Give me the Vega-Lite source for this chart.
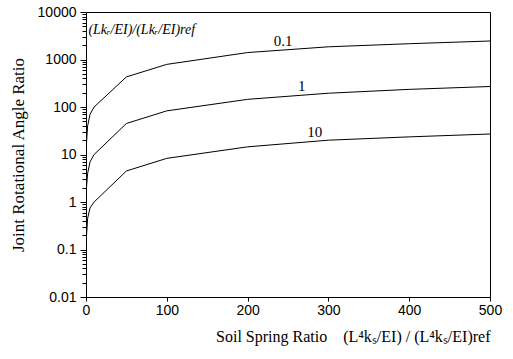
{
  "$schema": "https://vega.github.io/schema/vega-lite/v6.json",
  "autosize": {"type": "none"},
  "padding": {"left": 86, "top": 12, "right": 23, "bottom": 62},
  "width": 404,
  "height": 285,
  "background": "white",
  "config": {
    "view": {"stroke": "black", "strokeWidth": 1},
    "axis": {"domainColor": "black", "tickColor": "black", "labelColor": "black", "titleColor": "black", "grid": false}
  },
  "datasets": {
    "curves": [
      {"s": "0.1", "x": 0, "y": 12}, {"s": "0.1", "x": 2, "y": 40}, {"s": "0.1", "x": 5, "y": 70}, {"s": "0.1", "x": 10, "y": 100},
      {"s": "0.1", "x": 50, "y": 430}, {"s": "0.1", "x": 100, "y": 790}, {"s": "0.1", "x": 200, "y": 1400}, {"s": "0.1", "x": 300, "y": 1850},
      {"s": "0.1", "x": 400, "y": 2150}, {"s": "0.1", "x": 500, "y": 2450},
      {"s": "1", "x": 0, "y": 1.5}, {"s": "1", "x": 2, "y": 4}, {"s": "1", "x": 5, "y": 7}, {"s": "1", "x": 10, "y": 10},
      {"s": "1", "x": 50, "y": 45}, {"s": "1", "x": 100, "y": 83}, {"s": "1", "x": 200, "y": 145}, {"s": "1", "x": 300, "y": 195},
      {"s": "1", "x": 400, "y": 235}, {"s": "1", "x": 500, "y": 270},
      {"s": "10", "x": 0, "y": 0.13}, {"s": "10", "x": 2, "y": 0.45}, {"s": "10", "x": 5, "y": 0.75}, {"s": "10", "x": 10, "y": 1.0},
      {"s": "10", "x": 50, "y": 4.5}, {"s": "10", "x": 100, "y": 8.3}, {"s": "10", "x": 200, "y": 14.5}, {"s": "10", "x": 300, "y": 20},
      {"s": "10", "x": 400, "y": 23.5}, {"s": "10", "x": 500, "y": 27}
    ],
    "labels": [
      {"t": "0.1", "x": 244, "y": 2450},
      {"t": "1", "x": 267, "y": 275},
      {"t": "10", "x": 283, "y": 29.5}
    ],
    "legend": [
      {"t": "(Lkᵣ/EI)/(Lkᵣ/EI)ref", "x": 3, "y": 4200}
    ]
  },
  "layer": [
    {
      "data": {"name": "curves"},
      "mark": {"type": "line", "color": "black", "strokeWidth": 1, "clip": true},
      "encoding": {
        "x": {
          "field": "x", "type": "quantitative",
          "scale": {"domain": [0, 500], "nice": false, "zero": false},
          "axis": {
            "values": [0, 100, 200, 300, 400, 500],
            "tickSize": 4, "labelPadding": 2, "labelFlush": false,
            "labelFont": "Liberation Sans", "labelFontSize": 14,
            "title": "Soil Spring Ratio\u00a0\u00a0\u00a0\u00a0(L⁴kₛ/EI)\u00a0/\u00a0(L⁴kₛ/EI)ref",
            "titleFont": "Liberation Serif", "titleFontSize": 16, "titleFontWeight": "normal",
            "titleX": 404, "titleAlign": "right", "titlePadding": 11
          }
        },
        "y": {
          "field": "y", "type": "quantitative",
          "scale": {"type": "log", "domain": [0.01, 10000], "nice": false},
          "axis": {
            "values": [0.01, 0.02, 0.03, 0.04, 0.05, 0.06, 0.07, 0.08, 0.09,
                       0.1, 0.2, 0.3, 0.4, 0.5, 0.6, 0.7, 0.8, 0.9,
                       1, 2, 3, 4, 5, 6, 7, 8, 9,
                       10, 20, 30, 40, 50, 60, 70, 80, 90,
                       100, 200, 300, 400, 500, 600, 700, 800, 900,
                       1000, 2000, 3000, 4000, 5000, 6000, 7000, 8000, 9000, 10000],
            "labelExpr": "indexof(['0.01','0.1','1','10','100','1000','10000'], '' + datum.value) >= 0 ? '' + datum.value : ''",
            "tickSize": {"condition": {"test": "indexof(['0.01','0.1','1','10','100','1000','10000'], '' + datum.value) >= 0", "value": 6}, "value": 4},
            "labelPadding": 4, "labelFlush": false,
            "labelFont": "Liberation Sans", "labelFontSize": 14,
            "labelOverlap": false,
            "title": "Joint Rotational Angle Ratio",
            "titleFont": "Liberation Serif", "titleFontSize": 17, "titleFontWeight": "normal",
            "titlePadding": 10
          }
        },
        "detail": {"field": "s"}
      }
    },
    {
      "data": {"name": "labels"},
      "mark": {"type": "text", "baseline": "middle", "align": "center", "font": "Liberation Serif", "fontSize": 15, "color": "black"},
      "encoding": {
        "x": {"field": "x", "type": "quantitative"},
        "y": {"field": "y", "type": "quantitative"},
        "text": {"field": "t"}
      }
    },
    {
      "data": {"name": "legend"},
      "mark": {"type": "text", "baseline": "middle", "align": "left", "font": "Liberation Serif", "fontStyle": "italic", "fontSize": 14, "color": "black"},
      "encoding": {
        "x": {"field": "x", "type": "quantitative"},
        "y": {"field": "y", "type": "quantitative"},
        "text": {"field": "t"}
      }
    }
  ]
}
